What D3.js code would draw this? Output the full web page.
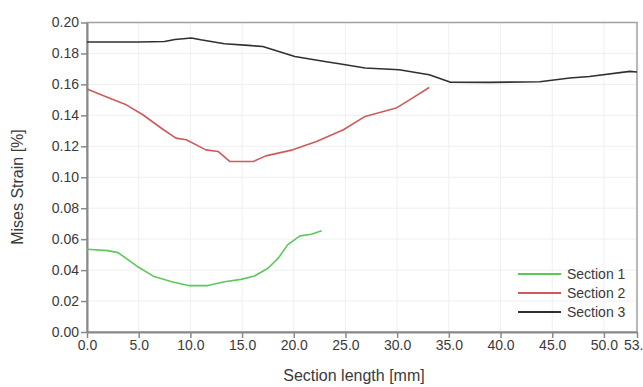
<!DOCTYPE html>
<html><head><meta charset="utf-8">
<script src="https://cdn.jsdelivr.net/npm/d3@7"></script>
<style>body{margin:0;background:#fff;}svg{display:block;font-family:"Liberation Sans",Arial,sans-serif;}</style>
</head><body><svg id="c" width="643" height="387"></svg>
<script>
const seriesNames = ["Section 1","Section 2","Section 3"];
const seriesColors = ["#5cc85c","#d05a5a","#303030"];
const section1X = [0,2.0,3.0,4.9,6.5,8.2,9.8,11.7,13.3,14.9,16.2,17.5,18.5,19.4,20.6,21.7,22.7];
const section1Y = [0.0535,0.0526,0.0513,0.0422,0.0358,0.0325,0.0300,0.0300,0.0325,0.0340,0.0362,0.0412,0.0477,0.0563,0.0621,0.0632,0.0655];
const section2X = [0,2.2,3.8,5.4,7.4,8.6,9.6,11.5,12.7,13.8,16.1,17.3,19.9,22.2,24.8,26.9,29.9,31.2,33.1];
const section2Y = [0.157,0.1511,0.1468,0.1404,0.1307,0.1253,0.1242,0.1177,0.1166,0.1102,0.1102,0.1138,0.1177,0.1231,0.1307,0.1393,0.1447,0.150,0.158];
const section3X = [0,5.0,7.5,8.5,10.1,11.0,13.3,15.6,17.0,20.1,23.0,24.4,26.9,30.2,33.1,35.1,38.9,43.8,46.7,48.6,52.5,53.2];
const section3Y = [0.1874,0.1874,0.1877,0.189,0.190,0.1888,0.1863,0.1852,0.1845,0.178,0.1748,0.1733,0.1706,0.1695,0.1662,0.1615,0.1613,0.1617,0.1641,0.1651,0.1684,0.168];
const xTicks = [0,5,10,15,20,25,30,35,40,45,50,53.2];
const yTicks = [0,0.02,0.04,0.06,0.08,0.10,0.12,0.14,0.16,0.18,0.20];
const xTitle = "Section length [mm]";
const yTitle = "Mises Strain [%]";

const svg = d3.select("#c");
const L=87, R=637, T=22.5, B=332;
const x = d3.scaleLinear().domain([0,53.2]).range([L,R]);
const y = d3.scaleLinear().domain([0,0.20]).range([B,T]);

// grid
const g = svg.append("g");
g.selectAll("line.vx").data(xTicks.slice(1,-1)).join("line")
  .attr("x1",d=>x(d)).attr("x2",d=>x(d)).attr("y1",T).attr("y2",B)
  .attr("stroke","#efefef").attr("stroke-width",1);
g.selectAll("line.hy").data(yTicks.slice(1,-1)).join("line")
  .attr("x1",L).attr("x2",R).attr("y1",d=>y(d)).attr("y2",d=>y(d))
  .attr("stroke","#efefef").attr("stroke-width",1);

// border
svg.append("rect").attr("x",L).attr("y",T).attr("width",R-L).attr("height",B-T)
  .attr("fill","none").attr("stroke","#a0a0a0").attr("stroke-width",1.5);

// axes
const xAxis = d3.axisBottom(x).tickValues(xTicks).tickFormat(d=>d.toFixed(1)).tickSize(6).tickSizeOuter(0);
const yAxis = d3.axisLeft(y).tickValues(yTicks).tickFormat(d3.format(".2f")).tickSize(6).tickSizeOuter(0);
const gx = svg.append("g").attr("transform",`translate(0,${B})`).call(xAxis);
const gy = svg.append("g").attr("transform",`translate(${L},0)`).call(yAxis);
[gx,gy].forEach(a=>{
  a.select(".domain").attr("stroke","#8a8a8a").attr("stroke-width",2);
  a.selectAll(".tick line").attr("stroke","#8a8a8a").attr("stroke-width",1.5);
  a.selectAll(".tick text").attr("fill","#3a3a3a").attr("font-size",14).attr("font-family","Liberation Sans, Arial, sans-serif");
});
gx.selectAll(".tick text").attr("y",8).attr("dy","0.71em");
gy.selectAll(".tick text").attr("x",-8);

// lines
const data = [[section1X,section1Y],[section2X,section2Y],[section3X,section3Y]];
const line = d3.line().x(d=>x(d[0])).y(d=>y(d[1])).curve(d3.curveLinear);
data.forEach((s,i)=>{
  const pts = s[0].map((v,j)=>[v,s[1][j]]);
  svg.append("path").datum(pts).attr("d",line).attr("fill","none")
    .attr("stroke",seriesColors[i]).attr("stroke-width",1.6).attr("stroke-linejoin","round");
});

// legend
const lg = svg.append("g");
seriesNames.forEach((n,i)=>{
  const yy = 274 + i*19;
  lg.append("line").attr("x1",518).attr("x2",561).attr("y1",yy).attr("y2",yy)
    .attr("stroke",seriesColors[i]).attr("stroke-width",2);
  lg.append("text").attr("x",567).attr("y",yy).attr("dy","0.35em")
    .attr("font-size",14).attr("fill","#3a3a3a").text(n);
});

// titles
svg.append("text").attr("x",354).attr("y",381).attr("text-anchor","middle")
  .attr("font-size",16).attr("fill","#3a3a3a").text(xTitle);
svg.append("text").attr("transform","translate(23,187) rotate(-90)").attr("text-anchor","middle")
  .attr("font-size",16).attr("fill","#3a3a3a").text(yTitle);
</script></body></html>
